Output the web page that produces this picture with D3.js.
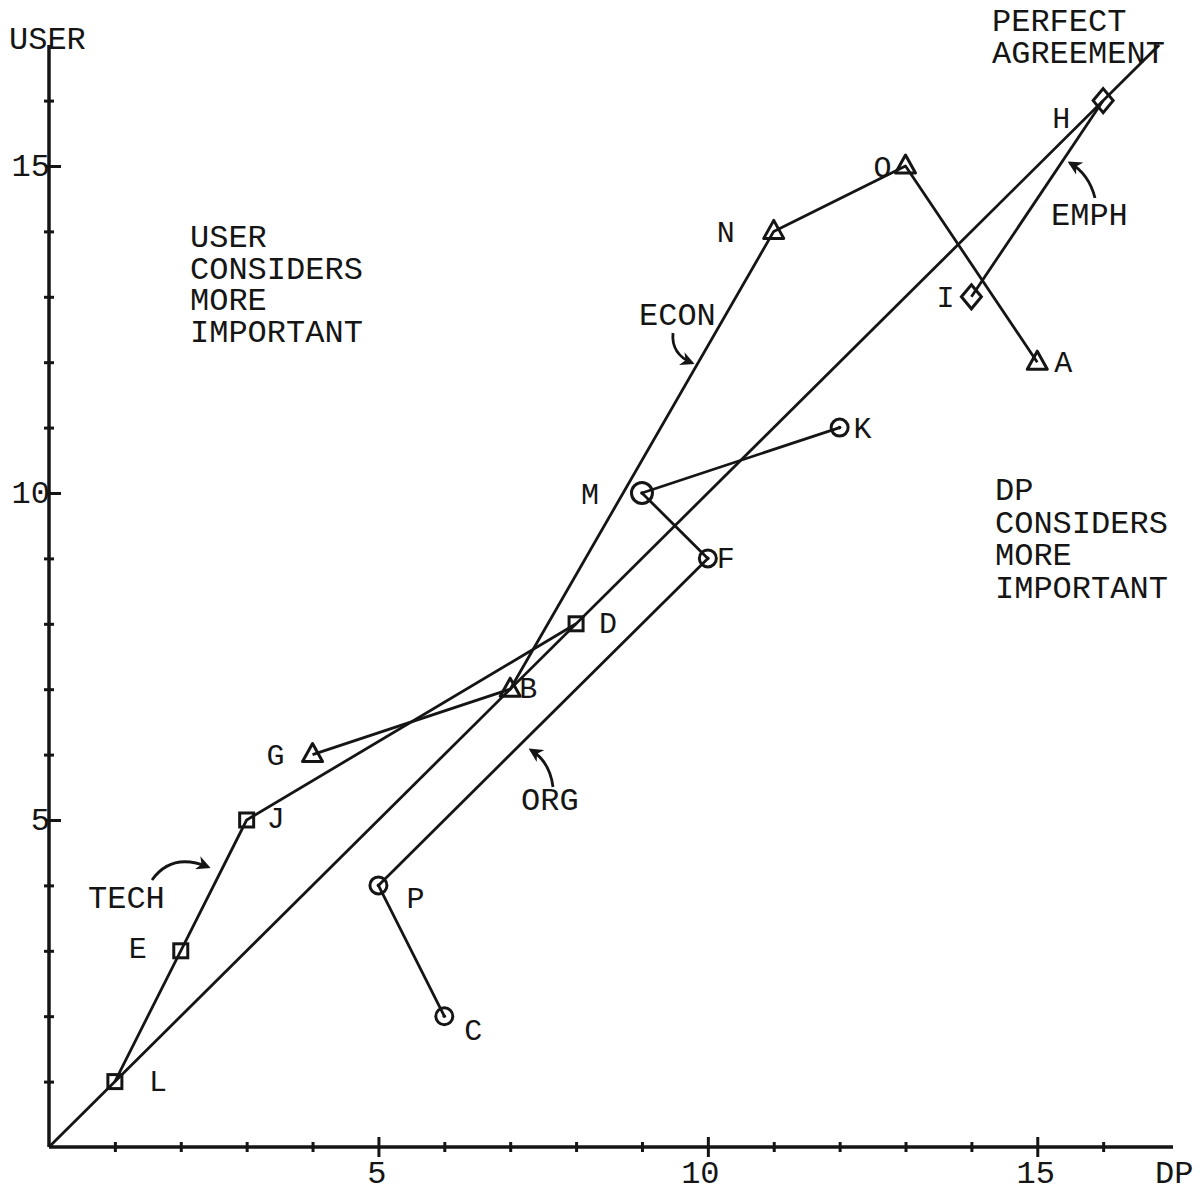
<!DOCTYPE html>
<html>
<head>
<meta charset="utf-8">
<script src="https://cdn.jsdelivr.net/npm/d3@7"></script>
<style>
  html, body { margin: 0; padding: 0; background: #fff; }
  svg { display: block; }
  text { font-family: "Courier New", "Liberation Mono", monospace; fill: #151515; }
</style>
</head>
<body>
<div id="chart"></div>
<script>
// ---- data (rank by DP, rank by USER) ----
const techNames = ["L", "E", "J", "D"];
const techDP    = [1, 2, 3, 8];
const techUser  = [1, 3, 5, 8];

const econNames = ["G", "B", "N", "O", "A"];
const econDP    = [4, 7, 11, 13, 15];
const econUser  = [6, 7, 14, 15, 12];

const orgNames  = ["C", "P", "F", "M", "K"];
const orgDP     = [6, 5, 10, 9, 12];
const orgUser   = [2, 4, 9, 10, 11];

const emphNames = ["I", "H"];
const emphDP    = [14, 16];
const emphUser  = [13, 16];

const xTicks = d3.range(1, 17);
const yTicks = d3.range(1, 17);
const labeledTicks = [5, 10, 15];
const diagonal = [0, 16.85];

// ---- layout ----
const W = 1200, H = 1191;
const svg = d3.select("#chart").append("svg").attr("width", W).attr("height", H);
svg.append("rect").attr("width", W).attr("height", H).attr("fill", "#fff");

const x = d3.scaleLinear().domain([0, 17.06]).range([49, 1173]);
const y = d3.scaleLinear().domain([0, 16.85]).range([1147, 45]);
const INK = "#151515";
const FS = 32;

// arrow marker
svg.append("defs").append("marker")
  .attr("id", "ah").attr("markerUnits", "userSpaceOnUse")
  .attr("viewBox", "0 0 10 10").attr("refX", 8).attr("refY", 5)
  .attr("markerWidth", 14).attr("markerHeight", 14).attr("orient", "auto")
  .append("path").attr("d", "M0,0 L10,5 L0,10 L3,5 Z").attr("fill", INK);

// ---- axes ----
const xAxis = svg.append("g").attr("transform", `translate(0,${y(0)})`)
  .call(d3.axisBottom(x).tickValues(xTicks).tickSizeOuter(0)
    .tickFormat(d => labeledTicks.includes(d) ? d : ""));
xAxis.select(".domain").attr("stroke", INK).attr("stroke-width", 3.5)
  .attr("d", `M${x(0)},0H${x(17.06)}`);
xAxis.selectAll(".tick line").attr("stroke", INK).attr("stroke-width", 3)
  .attr("y1", d => labeledTicks.includes(d) ? -10 : -5)
  .attr("y2", d => labeledTicks.includes(d) ? 10 : 5);
xAxis.selectAll(".tick text").attr("y", 36).attr("dy", 0)
  .attr("dx", d => d === 10 ? -8 : -2)
  .style("font-size", FS + "px").attr("fill", INK)
  .style("font-family", "'Courier New','Liberation Mono',monospace");

const yAxis = svg.append("g").attr("transform", `translate(${x(0)},0)`)
  .call(d3.axisLeft(y).tickValues(yTicks).tickSizeOuter(0)
    .tickFormat(d => labeledTicks.includes(d) ? d : ""));
yAxis.select(".domain").attr("stroke", INK).attr("stroke-width", 3.5)
  .attr("d", `M0,${y(0)}V${y(16.85)}`);
yAxis.selectAll(".tick line").attr("stroke", INK).attr("stroke-width", 3)
  .attr("x1", d => labeledTicks.includes(d) ? -3 : -5)
  .attr("x2", d => labeledTicks.includes(d) ? 12 : 5);
yAxis.selectAll(".tick text").attr("x", 1).attr("dy", "0.3em")
  .attr("text-anchor", "end")
  .style("font-size", FS + "px").attr("fill", INK)
  .style("font-family", "'Courier New','Liberation Mono',monospace");

// axis titles
svg.append("text").attr("x", 9).attr("y", 49).style("font-size", FS + "px").text("USER");
svg.append("text").attr("x", 1155).attr("y", 1183).style("font-size", FS + "px").text("DP");

// ---- perfect agreement diagonal ----
svg.append("line")
  .attr("x1", x(diagonal[0])).attr("y1", y(diagonal[0]))
  .attr("x2", x(diagonal[1])).attr("y2", y(diagonal[1]))
  .attr("stroke", INK).attr("stroke-width", 2.8);

// ---- series ----
const line = d3.line().x(d => x(d.dp)).y(d => y(d.user));
function build(names, dp, user) {
  return names.map((n, i) => ({ name: n, dp: dp[i], user: user[i] }));
}
const series = [
  { key: "tech", pts: build(techNames, techDP, techUser), shape: "square" },
  { key: "econ", pts: build(econNames, econDP, econUser), shape: "triangle" },
  { key: "org",  pts: build(orgNames, orgDP, orgUser),   shape: "circle" },
  { key: "emph", pts: build(emphNames, emphDP, emphUser), shape: "diamond" }
];

// label offsets (layout only)
const labelOffset = {
  L: [35, 9], E: [-51, 7], J: [21, 8], D: [24, 9],
  G: [-45, 10], B: [10, 9], N: [-56, 11], O: [-31, 11], A: [18, 10],
  C: [21, 24], P: [29, 23], F: [10, 10], M: [-60, 11], K: [15, 10],
  I: [-34, 10], H: [-50, 27]
};

series.forEach(s => {
  svg.append("path").datum(s.pts).attr("d", line)
    .attr("fill", "none").attr("stroke", INK).attr("stroke-width", 2.8)
    .attr("stroke-linejoin", "round");

  const g = svg.append("g").selectAll("g").data(s.pts).join("g")
    .attr("transform", d => `translate(${x(d.dp)},${y(d.user)})`);

  if (s.shape === "square") {
    g.append("rect").attr("x", -7).attr("y", -7).attr("width", 14).attr("height", 14)
      .attr("fill", "none").attr("stroke", INK).attr("stroke-width", 3);
  } else if (s.shape === "triangle") {
    g.append("path").attr("d", "M0,-11 L10,7 L-10,7 Z")
      .attr("fill", "none").attr("stroke", INK).attr("stroke-width", 3)
      .attr("stroke-linejoin", "round");
  } else if (s.shape === "circle") {
    g.append("circle").attr("r", d => d.name === "M" ? 10.5 : 8.5)
      .attr("fill", "none").attr("stroke", INK).attr("stroke-width", 3);
    g.append("circle").attr("r", 1.8).attr("fill", INK);
  } else if (s.shape === "diamond") {
    g.append("path").attr("d", "M0,-12 L10,0 L0,12 L-10,0 Z")
      .attr("fill", "none").attr("stroke", INK).attr("stroke-width", 3);
  }

  svg.append("g").selectAll("text").data(s.pts).join("text")
    .attr("x", d => x(d.dp) + labelOffset[d.name][0] - 1)
    .attr("y", d => y(d.user) + labelOffset[d.name][1])
    .style("font-size", "30px")
    .text(d => d.name);
});

// ---- annotations ----
function block(lines, x0, y0, lh) {
  const t = svg.append("text").style("font-size", FS + "px");
  lines.forEach((l, i) => t.append("tspan").attr("x", x0).attr("y", y0 + i * lh).text(l));
}
block(["PERFECT", "AGREEMENT"], 992, 31, 32);
block(["USER", "CONSIDERS", "MORE", "IMPORTANT"], 190, 247, 31.7);
block(["DP", "CONSIDERS", "MORE", "IMPORTANT"], 995, 500, 32.7);

svg.append("text").attr("x", 639).attr("y", 325).style("font-size", FS + "px").text("ECON");
svg.append("text").attr("x", 1051).attr("y", 225).style("font-size", FS + "px").text("EMPH");
svg.append("text").attr("x", 521).attr("y", 810).style("font-size", FS + "px").text("ORG");
svg.append("text").attr("x", 88).attr("y", 908).style("font-size", FS + "px").text("TECH");

// curved arrows
const arrows = [
  "M152,880 Q172,852 208,867",
  "M673,333 Q671,354 692,363",
  "M553,787 Q550,762 531,750",
  "M1095,198 Q1089,174 1070,163"
];
arrows.forEach(d => svg.append("path").attr("d", d)
  .attr("fill", "none").attr("stroke", INK).attr("stroke-width", 2.8)
  .attr("marker-end", "url(#ah)"));
</script>
</body>
</html>
